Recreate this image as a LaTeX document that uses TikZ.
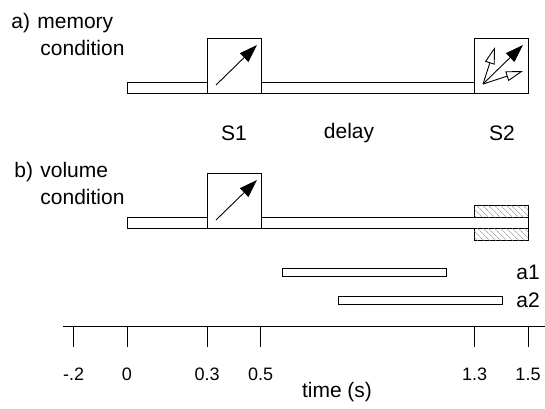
\documentclass[tikz,border=0pt]{standalone}
\usepackage{fontspec}
\setmainfont{Liberation Sans}
\usetikzlibrary{arrows.meta,patterns.meta}
\begin{document}
\begin{tikzpicture}[x=1pt,y=-1pt,
  line width=0.8pt,
  lab/.style={font=\fontsize{21}{24}\selectfont, inner sep=0pt},
  ticklab/.style={font=\fontsize{18}{21}\selectfont, inner sep=0pt},
  barbox/.style={draw, fill=white},
  stimbox/.style={draw, fill=white, line width=0.9pt},
  bigarrow/.style={-{Triangle[length=18pt,width=12pt]}, line width=0.9pt},
  openarrow/.style={-{Triangle[open,length=17pt,width=10pt,fill=white]}, line width=0.9pt},
  hatch/.style={draw, fill=white,
    preaction={pattern={Lines[angle=45,distance=4pt,line width=0.5pt]}, pattern color=black!50},
    postaction={pattern={Lines[angle=-45,distance=4pt,line width=0.5pt]}, pattern color=black!50}},
  tick/.style={line width=0.9pt}
]
\useasboundingbox (0,0) rectangle (545,408);

% labels a)
\node[lab, anchor=base west] (la0) at (11,28) {a)};
\node[lab, anchor=base west] (la1) at (37,28) {memory};
\node[lab, anchor=base west] (la2) at (40,55) {condition};

% memory condition
\node[barbox, minimum width=347pt, minimum height=11pt, inner sep=0pt, anchor=north west] (bara) at (127,82) {};
\node[stimbox, minimum width=54pt, minimum height=55pt, inner sep=0pt, anchor=north west] (s1a) at (207,38) {};
\node[stimbox, minimum width=54pt, minimum height=55pt, inner sep=0pt, anchor=north west] (s2a) at (474,38) {};
\coordinate (s1at) at (216,85);
\coordinate (s1ah) at (257,45);
\draw[bigarrow] (s1at) -- (s1ah);
\coordinate (s2ao) at (483,84);
\coordinate (s2a1) at (523,45);
\coordinate (s2a2) at (495,47);
\coordinate (s2a3) at (523,71);
\draw[openarrow] (s2ao) -- (s2a2);
\draw[openarrow] (s2ao) -- (s2a3);
\draw[bigarrow] (s2ao) -- (s2a1);

% middle labels
\node[lab] (ls1) at (234,133) {S1};
\node[lab] (ldelay) at (349,133) {delay};
\node[lab] (ls2) at (502,133) {S2};

% labels b)
\node[lab, anchor=base west] (lb0) at (14,177) {b)};
\node[lab, anchor=base west] (lb1) at (40,177) {volume};
\node[lab, anchor=base west] (lb2) at (40,204) {condition};

% volume condition
\node[barbox, minimum width=401pt, minimum height=11pt, inner sep=0pt, anchor=north west] (barb) at (127,217) {};
\node[stimbox, minimum width=54pt, minimum height=55pt, inner sep=0pt, anchor=north west] (s1b) at (207,173) {};
\coordinate (s1bt) at (216,220);
\coordinate (s1bh) at (257,180);
\draw[bigarrow] (s1bt) -- (s1bh);
\node[hatch, minimum width=54pt, minimum height=12pt, inner sep=0pt, anchor=north west] (hb1) at (474,205) {};
\node[hatch, minimum width=54pt, minimum height=12pt, inner sep=0pt, anchor=north west] (hb2) at (474,228) {};

% analysis windows
\node[draw, line width=0.6pt, minimum width=164pt, minimum height=8pt, inner sep=0pt, anchor=north west] (a1) at (282,268) {};
\node[draw, line width=0.6pt, minimum width=164pt, minimum height=8pt, inner sep=0pt, anchor=north west] (a2) at (338,296) {};
\node[lab, anchor=west] (la1t) at (516,272) {a1};
\node[lab, anchor=west] (la2t) at (516,300) {a2};

% axis
\coordinate (ax0) at (63,326);
\coordinate (ax1) at (545,326);
\draw[tick] (ax0) -- (ax1);
\foreach \t/\lab/\n in {-0.2/-.2/m, 0/0/z, 0.3/0.3/a, 0.5/0.5/b, 1.3/1.3/c, 1.5/1.5/d} {
  \coordinate (tk\n) at ({127+267.33*\t},326);
  \coordinate (tb\n) at ({127+267.33*\t},347);
  \draw[tick] (tk\n) -- (tb\n);
  \node[ticklab] (tl\n) at ({127+267.33*\t},374) {\lab};
}
\node[lab] (ltime) at (337,392) {time (s)};
\end{tikzpicture}
\end{document}
